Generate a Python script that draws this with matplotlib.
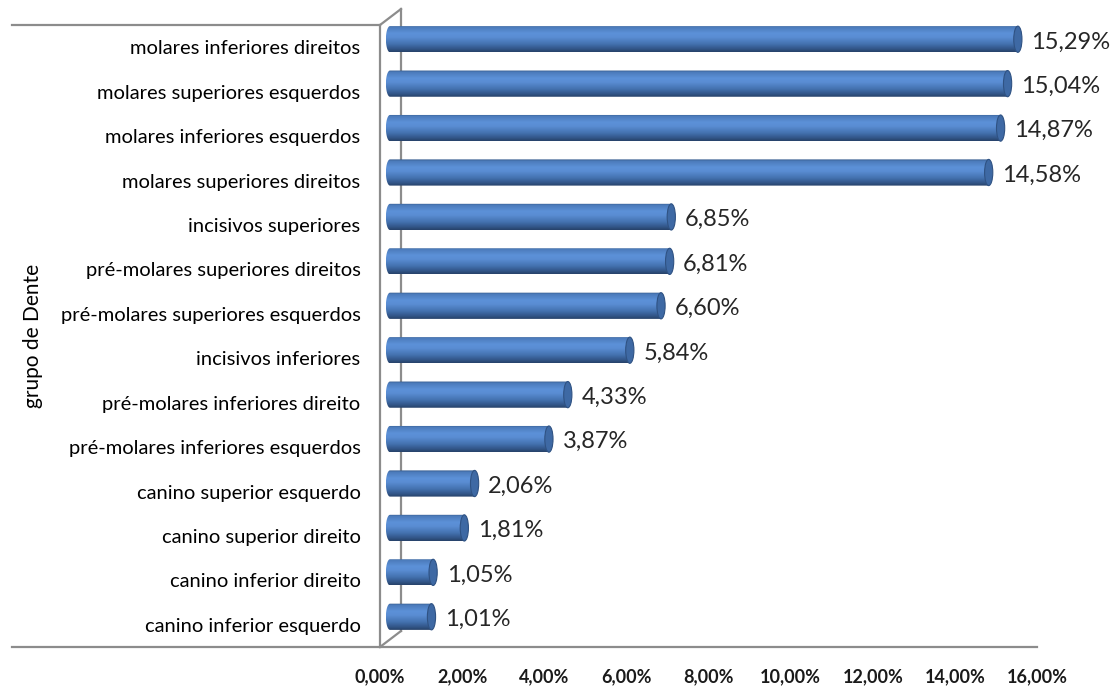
import numpy as np
import matplotlib
matplotlib.use("Agg")
import matplotlib.pyplot as plt
from matplotlib.colors import LinearSegmentedColormap
from matplotlib.patches import PathPatch, Ellipse
from matplotlib.path import Path
from matplotlib.lines import Line2D

plt.rcParams['font.family'] = ['Lato', 'DejaVu Sans']

# dados (de cima para baixo)
categorias = [
    "molares inferiores direitos",
    "molares superiores esquerdos",
    "molares inferiores esquerdos",
    "molares superiores direitos",
    "incisivos superiores",
    "pré-molares superiores direitos",
    "pré-molares superiores esquerdos",
    "incisivos inferiores",
    "pré-molares inferiores direito",
    "pré-molares inferiores esquerdos",
    "canino superior esquerdo",
    "canino superior direito",
    "canino inferior direito",
    "canino inferior esquerdo",
]
valores = [15.29, 15.04, 14.87, 14.58, 6.85, 6.81, 6.60, 5.84, 4.33, 3.87, 2.06, 1.81, 1.05, 1.01]
xticks = [0, 2, 4, 6, 8, 10, 12, 14, 16]
ylabel = "grupo de Dente"

W, H = 1116, 686
fig = plt.figure(figsize=(W / 100, H / 100), dpi=100)

# eixo "frontal" (rótulos, chão, parede)
x0p, x1p, ytop, ybot = 380, 1037, 25, 647
esc = (x1p - x0p) / 16.0  # px por unidade
fa = fig.add_axes([x0p / W, 1 - ybot / H, (x1p - x0p) / W, (ybot - ytop) / H])
# eixo das barras, deslocado para dar profundidade (com folga à esquerda)
dx, dy = 10, 8
xmin_b = -0.25
ab = fig.add_axes([(x0p + dx + xmin_b * esc) / W, 1 - (ybot - dy) / H,
                   (16 - xmin_b) * esc / W, (ybot - ytop) / H])
ab.patch.set_alpha(0)

n = len(categorias)
ypos = np.arange(n)
fa.set_xlim(0, 16)
fa.set_ylim(n - 0.5, -0.5)

cinza = "#8c8c8c"
for s in fa.spines.values():
    s.set_visible(False)
fa.spines['left'].set_visible(True)
fa.spines['left'].set_color(cinza)
fa.spines['left'].set_linewidth(1.6)
for s in ab.spines.values():
    s.set_visible(False)
ab.set_xticks([])
ab.set_yticks([])

fa.set_yticks(ypos)
fa.set_yticklabels(categorias, fontsize=14.5, color="#000000")
fa.tick_params(axis='y', length=0, pad=14)
fa.set_xticks(xticks)
fa.set_xticklabels([f"{t:.2f}".replace('.', ',') + "%" for t in xticks],
                   fontsize=13, fontweight='bold', color="#1a1a1a")
fa.tick_params(axis='x', length=0, pad=15)

fa.text((33 - x0p) / (x1p - x0p), 0.5, ylabel, transform=fa.transAxes,
        rotation=90, ha='center', va='center', fontsize=15)

# linhas do chão e da parede
lx = (12 - x0p) / (x1p - x0p)
bx = 21 / (x1p - x0p)
by = 16 / (ybot - ytop)
kw = dict(transform=fa.transAxes, color=cinza, lw=1.6, clip_on=False)
fa.add_line(Line2D([lx, 1], [0, 0], **kw))
fa.add_line(Line2D([lx, 0], [1, 1], **kw))
fa.add_line(Line2D([0, bx], [0, by], **kw))
fa.add_line(Line2D([0, bx], [1, 1 + by], **kw))
fa.add_line(Line2D([bx, bx], [by, 1 + by], **kw))

# barras cilíndricas
cmap = LinearSegmentedColormap.from_list("cil", [
    (0.0, "#34598a"), (0.07, "#4c7bbb"), (0.3, "#5c91d8"), (0.45, "#5a8dd3"),
    (0.7, "#4472b0"), (0.88, "#33578a"), (1.0, "#27436a")])
grad = np.linspace(0, 1, 64).reshape(-1, 1)
h = 0.59
ew = 0.1
bars = ab.barh(ypos, valores, height=h, color='none', edgecolor='none')
t = np.linspace(np.pi / 2, 3 * np.pi / 2, 30)
for rect, yc in zip(bars, ypos):
    v = rect.get_width()
    verts = np.column_stack([ew * np.cos(t), yc + (h / 2) * np.sin(t)])
    verts = np.vstack([verts, [v, yc - h / 2], [v, yc + h / 2], verts[:1]])
    body = PathPatch(Path(verts, closed=True), facecolor='none', edgecolor='none',
                     transform=ab.transData)
    ab.add_patch(body)
    im = ab.imshow(grad, cmap=cmap, aspect='auto', origin='upper',
                   extent=(-ew, v, yc + h / 2, yc - h / 2), zorder=2)
    im.set_clip_path(body)
    cap = Ellipse((v, yc), 2 * ew, h, facecolor="#3e69a4", edgecolor="#2f5283",
                  lw=0.8, zorder=3)
    ab.add_patch(cap)
    ab.text(v + 0.33, yc + 0.06, f"{v:.2f}".replace('.', ',') + "%",
            va='center', ha='left', fontsize=17, color="#262626")

ab.set_xlim(xmin_b, 16)
ab.set_ylim(n - 0.5, -0.5)

fig.savefig("out.png", dpi=100)
